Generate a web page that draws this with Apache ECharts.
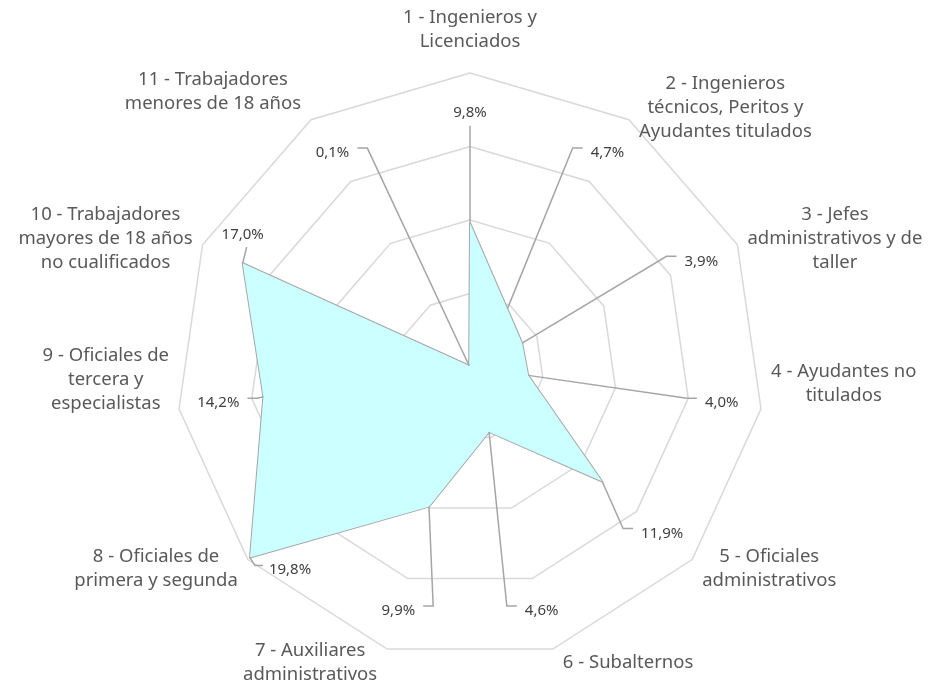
<!DOCTYPE html>
<html lang="es">
<head>
<meta charset="UTF-8">
<title>Radar categorías</title>
<style>
  html, body { margin: 0; padding: 0; background: #fff; }
  #main { width: 937px; height: 691px; }
</style>
</head>
<body>
<div id="main"></div>
<script src="https://cdn.jsdelivr.net/npm/echarts@6/dist/echarts.min.js"></script>
<script>
// categorías (en el orden del gráfico, sentido horario desde arriba)
const categories = [
  '1 - Ingenieros y\nLicenciados',
  '2 - Ingenieros\ntécnicos, Peritos y\nAyudantes titulados',
  '3 - Jefes\nadministrativos y de\ntaller',
  '4 - Ayudantes no\ntitulados',
  '5 - Oficiales\nadministrativos',
  '6 - Subalternos',
  '7 - Auxiliares\nadministrativos',
  '8 - Oficiales de\nprimera y segunda',
  '9 - Oficiales de\ntercera y\nespecialistas',
  '10 - Trabajadores\nmayores de 18 años\nno cualificados',
  '11 - Trabajadores\nmenores de 18 años'
];
const values = [9.8, 4.7, 3.9, 4.0, 11.9, 4.6, 9.9, 19.8, 14.2, 17.0, 0.1];
const valueLabels = values.map(v => v.toFixed(1).replace('.', ',') + '%');
const axisMax = 20;
const splitCount = 4;

// layout
const CX = 470, CY = 367, R = 294;
const LABEL_R = 17.3;          // where value labels sit, in axis units
const nameFont = '18.5px "Noto Sans"';
const labelFont = '15px "Noto Sans"';
const nameNudgeY = [0, 0, 0, -27, 0, 0, 0, 0, -31, 0, -16];
const labelNudge = { 7: [40, 12], 9: [0, -28] };   // labels pushed off the ring

const n = categories.length;
// radar lays indicators out counter-clockwise, so feed it 1, 11, 10, ... 2
const order = categories.map((_, k) => (n - k) % n);

const ctx = document.createElement('canvas').getContext('2d');
function textWidth(s, font) {
  ctx.font = font;
  return Math.max.apply(null, s.split('\n').map(l => ctx.measureText(l).width));
}

function renderItem(params, api) {
  const i = api.value(1), v = api.value(0);
  const theta = i / n * 2 * Math.PI;
  const sx = Math.sin(theta), cosT = Math.cos(theta);
  const p = api.coord([v, i]);
  const lbl = valueLabels[i];
  const w = textWidth(lbl, labelFont);
  const line = { stroke: '#a5a5a5', lineWidth: 1.5, fill: null };
  let pts, tx, ty;

  if (labelNudge[i]) {
    const d = labelNudge[i];
    tx = p[0] + d[0]; ty = p[1] + d[1];
    if (Math.abs(d[0]) > Math.abs(d[1])) {
      const s = Math.sign(d[0]);
      pts = [p, [tx - s * (w / 2 + 14), ty - 4], [tx - s * (w / 2 + 6), ty - 4]];
    } else {
      pts = [p, [tx + 4, ty - Math.sign(d[1]) * 12]];
    }
  } else {
    const t = api.coord([LABEL_R, i]);
    tx = t[0]; ty = t[1];
    if (Math.abs(sx) < 0.1) {
      pts = [p, [tx, ty + (cosT > 0 ? 13 : -13)]];
    } else {
      const s = Math.sign(sx);
      const ex = tx - s * (w / 2 + 8);
      pts = [p, [ex - s * 10, ty - 5], [ex, ty - 5]];
    }
  }

  // category name outside the outer ring
  const name = categories[i];
  const vtx = api.coord([axisMax, i]);
  const nw = textWidth(name, nameFont);
  const nh = name.split('\n').length * 24;
  let nx, ny;
  if (Math.abs(sx) < 0.1) {
    nx = vtx[0];
    ny = vtx[1] - cosT * (nh / 2 + 19);
  } else {
    nx = vtx[0] + Math.sign(sx) * (nw / 2 + 10);
    ny = vtx[1] - cosT * 14 + nameNudgeY[i];
  }

  return {
    type: 'group',
    children: [
      { type: 'polyline', shape: { points: pts }, style: line },
      { type: 'text', style: { text: lbl, x: tx, y: ty, font: labelFont, fill: '#404040', align: 'center', verticalAlign: 'middle' } },
      { type: 'text', style: { text: name, x: nx, y: ny, font: nameFont, fill: '#595959', align: 'center', verticalAlign: 'middle', lineHeight: 24 } }
    ]
  };
}

const myChart = echarts.init(document.getElementById('main'));
myChart.setOption({
  backgroundColor: '#fff',
  animation: false,
  radar: {
    center: [CX, CY],
    radius: R,
    startAngle: 90,
    splitNumber: splitCount,
    shape: 'polygon',
    indicator: order.map(() => ({ name: '', min: 0, max: axisMax })),
    axisName: { show: false },
    axisLine: { show: false },
    axisTick: { show: false },
    axisLabel: { show: false },
    splitArea: { show: false },
    splitLine: { lineStyle: { color: '#d9d9d9', width: 1.5 } }
  },
  polar: { center: [CX, CY], radius: R },
  angleAxis: { type: 'value', min: 0, max: n, startAngle: 90, clockwise: true, show: false },
  radiusAxis: { type: 'value', min: 0, max: axisMax, show: false },
  series: [
    {
      type: 'radar',
      symbol: 'none',
      silent: true,
      lineStyle: { color: '#a5a5a5', width: 2 },
      areaStyle: { color: '#ccffff', opacity: 1 },
      data: [{ value: order.map(i => values[i]) }]
    },
    {
      type: 'custom',
      coordinateSystem: 'polar',
      clip: false,
      silent: true,
      z: 3,
      data: values.map((v, i) => [v, i]),
      renderItem: renderItem
    }
  ]
});
</script>
</body>
</html>
